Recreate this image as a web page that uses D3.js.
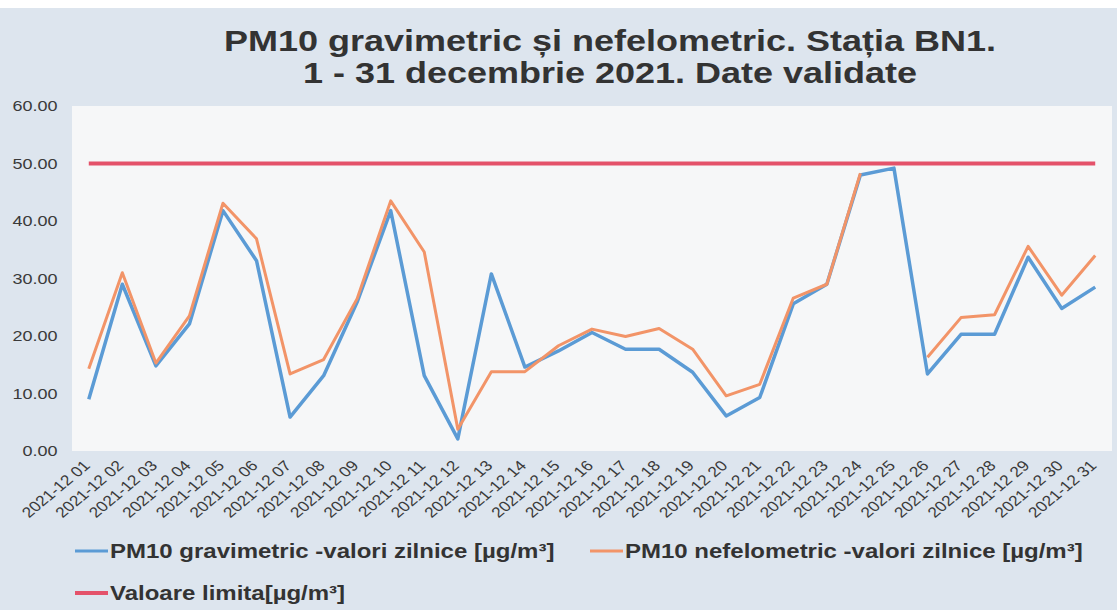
<!DOCTYPE html>
<html>
    <head>
        <meta charset="UTF-8">
        <title>PM10 BN1 decembrie 2021</title>
        <script src="https://d3js.org/d3.v7.min.js"></script>
        <style>
            body {
                margin: 0;
                padding: 0;
                background: #ffffff;
            }
            text {
                font-family: "Liberation Sans", Arial, sans-serif;
            }
        </style>
    </head>
    <body>
        <div id="chart"></div>
        <script>
            // tick labels on the category axis
            var days = d3.range(1, 32).map(d => "2021-12 " + (d < 10 ? "0" + d : d));
            // PM10 gravimetric - daily values
            var grav = [9.0, 29.0, 14.8, 22.1, 41.8, 33.1, 5.9, 13.1, 25.9, 41.8,
                        13.1, 2.1, 30.8, 14.6, 17.4, 20.6, 17.7, 17.7, 13.7, 6.1,
                        9.3, 25.6, 29.0, 48.0, 49.2, 13.4, 20.3, 20.3, 33.7, 24.8, 28.5];
            // PM10 nefelometric - daily values (day 25 missing)
            var nef = [14.3, 31.0, 15.3, 23.5, 43.1, 36.9, 13.4, 15.9, 26.5, 43.5,
                       34.6, 3.8, 13.8, 13.8, 18.3, 21.2, 19.9, 21.3, 17.7, 9.6,
                       11.6, 26.6, 29.0, 48.3, null, 16.3, 23.2, 23.7, 35.6, 27.1, 34.0];
            // limit value
            var limita = days.map(() => 50);
            var yTicks = [0, 10, 20, 30, 40, 50, 60];
            var titleLines = ["PM10 gravimetric și nefelometric. Stația BN1.",
                              "1 - 31 decembrie 2021. Date validate"];
            var seriesNames = ["PM10 gravimetric -valori zilnice [µg/m³]",
                               "PM10 nefelometric -valori zilnice [µg/m³]",
                               "Valoare limita[µg/m³]"];

            var svgWidth = 1117, svgHeight = 610;
            var margin = { top: 106, right: 5, bottom: 159, left: 72 };
            var width = svgWidth - margin.left - margin.right;
            var height = svgHeight - margin.top - margin.bottom;
            // the scanned chart is a bit wider than tall, so text is stretched sideways
            var sx = 1.2;

            var svg = d3.select('#chart').append('svg')
                .attr('width', svgWidth)
                .attr('height', svgHeight)
                .style('display', 'block');

            // outer background (white strip on top)
            svg.append('rect')
                .attr('x', 0).attr('y', 8)
                .attr('width', svgWidth).attr('height', svgHeight - 8)
                .attr('fill', '#dde5ee');

            var g = svg.append('g')
                .attr('transform', `translate(${margin.left}, ${margin.top})`);

            g.append('rect')
                .attr('width', width)
                .attr('height', height)
                .attr('fill', '#f6f7f8');

            var x = d3.scalePoint().domain(days).range([0, width]).padding(0.5);
            var y = d3.scaleLinear().domain([0, 60]).range([height, 0]);

            // y axis
            var yAxis = g.append('g')
                .call(d3.axisLeft(y).tickValues(yTicks).tickFormat(d3.format('.2f')).tickSize(0).tickPadding(12));
            yAxis.select('.domain').remove();
            yAxis.selectAll('text')
                .attr('fill', '#3a3a3a')
                .style('font-size', '15px')
                .attr('transform', `scale(${sx},1)`);

            // x axis
            var xAxis = g.append('g')
                .attr('transform', `translate(0, ${height})`)
                .call(d3.axisBottom(x).tickSize(0));
            xAxis.select('.domain').remove();
            xAxis.selectAll('text')
                .attr('fill', '#3a3a3a')
                .style('font-size', '14.5px')
                .style('text-anchor', 'end')
                .attr('x', 0).attr('y', 0)
                .attr('dx', '-0.2em').attr('dy', '0.35em')
                .attr('transform', `translate(0, 10) scale(${sx},1) rotate(-45)`);

            var line = d3.line()
                .defined(d => d[1] != null)
                .x(d => x(d[0]))
                .y(d => y(d[1]));

            var series = [
                { values: limita, color: '#e4526a', width: 4 },
                { values: grav, color: '#5b9bd5', width: 3.5 },
                { values: nef, color: '#f29468', width: 3 }
            ];
            series.forEach(s => {
                g.append('path')
                    .datum(days.map((d, i) => [d, s.values[i]]))
                    .attr('fill', 'none')
                    .attr('stroke', s.color)
                    .attr('stroke-width', s.width)
                    .attr('stroke-linejoin', 'round')
                    .attr('d', line);
            });

            // title
            svg.selectAll('.title')
                .data(titleLines)
                .enter().append('text')
                .attr('class', 'title')
                .attr('text-anchor', 'middle')
                .attr('fill', '#333333')
                .style('font-size', '30px')
                .style('font-weight', 'bold')
                .attr('transform', (d, i) => `translate(610, ${51 + i * 32}) scale(${sx},1)`)
                .text(d => d);

            // legend
            var legendPos = [[75, 551], [590, 551], [75, 593]];
            var legendColors = ['#5b9bd5', '#f29468', '#e4526a'];
            var legend = svg.selectAll('.legend')
                .data(seriesNames)
                .enter().append('g')
                .attr('class', 'legend')
                .attr('transform', (d, i) => `translate(${legendPos[i][0]}, ${legendPos[i][1]})`);
            legend.append('line')
                .attr('x1', 0).attr('x2', 33)
                .attr('stroke', (d, i) => legendColors[i])
                .attr('stroke-width', (d, i) => i == 2 ? 4 : 3);
            legend.append('text')
                .attr('fill', '#333333')
                .style('font-size', '20px')
                .style('font-weight', 'bold')
                .attr('dy', '0.35em')
                .attr('transform', `translate(35, 0) scale(${sx},1)`)
                .text(d => d);
        </script>
    </body>
</html>
